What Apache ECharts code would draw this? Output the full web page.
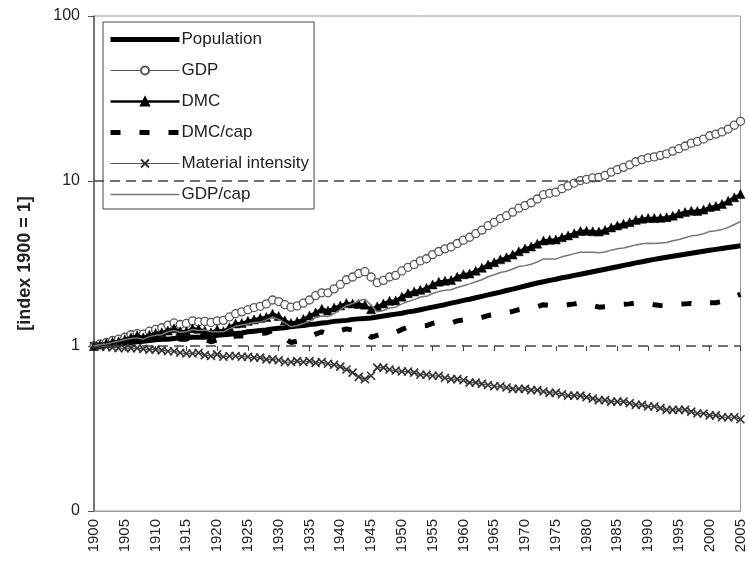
<!DOCTYPE html>
<html>
<head>
<meta charset="utf-8">
<title>Global material use, population and GDP, 1900-2005</title>
<script src="https://cdn.jsdelivr.net/npm/echarts@6/dist/echarts.min.js"></script>
<style>
  html, body { margin: 0; padding: 0; background: #fff; }
  #chart { width: 748px; height: 562px; }
</style>
</head>
<body>
<div id="chart"></div>
<script>
// Years on the horizontal axis
const years = [];
for (let y = 1900; y <= 2005; y++) years.push(String(y));

// Index values, 1900 = 1
const population = [
  1.00, 1.01, 1.02, 1.03, 1.03, 1.04, 1.05, 1.06, 1.07, 1.08,
  1.09, 1.10, 1.10, 1.11, 1.12, 1.12, 1.13, 1.13, 1.13, 1.14,
  1.16, 1.17, 1.18, 1.19, 1.20, 1.22, 1.23, 1.24, 1.25, 1.27,
  1.28, 1.29, 1.31, 1.32, 1.33, 1.35, 1.36, 1.38, 1.39, 1.41,
  1.42, 1.43, 1.45, 1.46, 1.47, 1.48, 1.50, 1.52, 1.54, 1.56,
  1.58, 1.61, 1.63, 1.66, 1.69, 1.72, 1.75, 1.78, 1.82, 1.85,
  1.89, 1.92, 1.96, 2.00, 2.04, 2.08, 2.12, 2.17, 2.21, 2.26,
  2.31, 2.36, 2.41, 2.45, 2.50, 2.54, 2.59, 2.63, 2.68, 2.72,
  2.77, 2.82, 2.87, 2.92, 2.97, 3.02, 3.08, 3.13, 3.19, 3.24,
  3.30, 3.35, 3.40, 3.45, 3.50, 3.55, 3.60, 3.65, 3.70, 3.75,
  3.80, 3.85, 3.90, 3.95, 4.00, 4.05
];

const gdp = [
  1.00, 1.03, 1.05, 1.08, 1.10, 1.13, 1.17, 1.19, 1.18, 1.23,
  1.26, 1.29, 1.34, 1.38, 1.35, 1.37, 1.42, 1.40, 1.41, 1.39,
  1.42, 1.43, 1.50, 1.57, 1.61, 1.66, 1.71, 1.74, 1.80, 1.90,
  1.86, 1.78, 1.72, 1.75, 1.82, 1.90, 2.02, 2.10, 2.10, 2.22,
  2.36, 2.52, 2.62, 2.75, 2.82, 2.62, 2.42, 2.50, 2.62, 2.68,
  2.85, 3.00, 3.12, 3.28, 3.38, 3.58, 3.74, 3.88, 3.98, 4.18,
  4.38, 4.56, 4.80, 5.04, 5.36, 5.62, 5.92, 6.16, 6.48, 6.84,
  7.10, 7.38, 7.78, 8.26, 8.42, 8.56, 8.98, 9.34, 9.72, 10.06,
  10.24, 10.44, 10.52, 10.82, 11.32, 11.72, 12.10, 12.54, 13.08, 13.48,
  13.82, 14.00, 14.30, 14.62, 15.18, 15.70, 16.30, 16.96, 17.36, 17.96,
  18.80, 19.24, 19.84, 20.64, 21.80, 23.00
];

const dmc = [
  1.00, 1.02, 1.04, 1.06, 1.07, 1.10, 1.13, 1.16, 1.13, 1.17,
  1.20, 1.21, 1.24, 1.28, 1.23, 1.23, 1.28, 1.27, 1.24, 1.21,
  1.26, 1.23, 1.30, 1.37, 1.38, 1.42, 1.45, 1.48, 1.50, 1.57,
  1.52, 1.43, 1.38, 1.41, 1.46, 1.53, 1.60, 1.68, 1.64, 1.71,
  1.76, 1.82, 1.81, 1.80, 1.78, 1.67, 1.74, 1.81, 1.88, 1.89,
  1.99, 2.09, 2.14, 2.19, 2.25, 2.36, 2.45, 2.49, 2.51, 2.63,
  2.72, 2.75, 2.86, 2.98, 3.12, 3.22, 3.35, 3.45, 3.58, 3.75,
  3.90, 4.01, 4.17, 4.36, 4.40, 4.42, 4.56, 4.68, 4.82, 4.98,
  4.99, 4.96, 4.94, 5.05, 5.23, 5.38, 5.51, 5.63, 5.81, 5.90,
  5.97, 5.96, 5.98, 6.04, 6.16, 6.35, 6.48, 6.61, 6.59, 6.71,
  6.95, 7.05, 7.25, 7.58, 7.96, 8.34
];

const dmcPerCap = [
  1.00, 1.01, 1.02, 1.03, 1.04, 1.06, 1.08, 1.09, 1.06, 1.08,
  1.10, 1.10, 1.13, 1.15, 1.10, 1.10, 1.13, 1.12, 1.10, 1.06,
  1.09, 1.05, 1.10, 1.15, 1.15, 1.16, 1.18, 1.19, 1.20, 1.24,
  1.19, 1.11, 1.05, 1.07, 1.10, 1.13, 1.18, 1.22, 1.18, 1.21,
  1.24, 1.27, 1.25, 1.23, 1.21, 1.13, 1.16, 1.19, 1.22, 1.21,
  1.26, 1.30, 1.31, 1.32, 1.33, 1.37, 1.40, 1.40, 1.38, 1.42,
  1.44, 1.43, 1.46, 1.49, 1.53, 1.55, 1.58, 1.59, 1.62, 1.66,
  1.69, 1.70, 1.73, 1.78, 1.76, 1.74, 1.76, 1.78, 1.80, 1.83,
  1.80, 1.76, 1.72, 1.73, 1.76, 1.78, 1.79, 1.80, 1.82, 1.82,
  1.81, 1.78, 1.76, 1.75, 1.76, 1.79, 1.80, 1.81, 1.78, 1.79,
  1.83, 1.83, 1.86, 1.92, 1.99, 2.06
];

const materialIntensity = [
  1.00, 0.99, 0.99, 0.98, 0.97, 0.97, 0.97, 0.97, 0.96, 0.95,
  0.95, 0.94, 0.93, 0.93, 0.91, 0.90, 0.90, 0.91, 0.88, 0.87,
  0.89, 0.86, 0.87, 0.87, 0.86, 0.86, 0.85, 0.85, 0.83, 0.83,
  0.82, 0.80, 0.80, 0.81, 0.80, 0.81, 0.79, 0.80, 0.78, 0.77,
  0.75, 0.72, 0.69, 0.65, 0.63, 0.66, 0.74, 0.74, 0.72, 0.71,
  0.70, 0.70, 0.69, 0.67, 0.67, 0.66, 0.66, 0.64, 0.63, 0.63,
  0.62, 0.60, 0.60, 0.59, 0.58, 0.57, 0.57, 0.56, 0.55, 0.55,
  0.55, 0.54, 0.54, 0.53, 0.52, 0.52, 0.51, 0.50, 0.50, 0.50,
  0.49, 0.48, 0.47, 0.47, 0.46, 0.46, 0.46, 0.45, 0.44, 0.44,
  0.43, 0.43, 0.42, 0.41, 0.41, 0.41, 0.41, 0.40, 0.39, 0.39,
  0.38, 0.38, 0.37, 0.37, 0.37, 0.36
];

const gdpPerCap = [
  1.00, 1.02, 1.03, 1.05, 1.07, 1.09, 1.11, 1.12, 1.10, 1.14,
  1.16, 1.17, 1.22, 1.24, 1.21, 1.22, 1.26, 1.24, 1.25, 1.22,
  1.22, 1.22, 1.27, 1.32, 1.34, 1.36, 1.39, 1.40, 1.44, 1.50,
  1.45, 1.38, 1.31, 1.33, 1.37, 1.41, 1.49, 1.52, 1.51, 1.57,
  1.66, 1.76, 1.81, 1.88, 1.92, 1.77, 1.61, 1.64, 1.70, 1.72,
  1.80, 1.86, 1.91, 1.98, 2.00, 2.08, 2.14, 2.18, 2.19, 2.26,
  2.32, 2.38, 2.45, 2.52, 2.63, 2.70, 2.79, 2.84, 2.93, 3.03,
  3.07, 3.13, 3.23, 3.37, 3.37, 3.37, 3.47, 3.55, 3.63, 3.70,
  3.70, 3.70, 3.67, 3.71, 3.81, 3.88, 3.93, 4.01, 4.10, 4.16,
  4.19, 4.18, 4.21, 4.24, 4.34, 4.42, 4.53, 4.65, 4.69, 4.79,
  4.95, 5.00, 5.09, 5.23, 5.45, 5.68
];

// Reference levels drawn as dashed lines
const referenceLevels = [1, 10];

const FONT = '"Liberation Sans", Arial, sans-serif';
const TXT = '#222';

const crossSymbol = 'path://M0,0L10,10M10,0L0,10';

const chart = echarts.init(document.getElementById('chart'), null, { renderer: 'canvas' });

chart.setOption({
  backgroundColor: '#fff',
  animation: false,
  textStyle: { fontFamily: FONT, color: TXT },
  grid: {
    left: 94, right: 3, top: 16, bottom: 51,
    show: true, borderColor: '#9a9a9a', borderWidth: 1, backgroundColor: 'transparent'
  },
  legend: {
    orient: 'vertical',
    left: 103, top: 22,
    padding: [9, 5, 6, 5],
    itemWidth: 69, itemHeight: 10, itemGap: 14,
    borderColor: '#444', borderWidth: 1,
    backgroundColor: '#fff',
    textStyle: { fontFamily: FONT, fontSize: 17, color: TXT, padding: [0, 0, 0, -3] },
    data: [
      { name: 'Population', itemStyle: { opacity: 0 }, lineStyle: { width: 5 } },
      { name: 'GDP', lineStyle: { width: 1 } },
      { name: 'DMC', lineStyle: { width: 2.5 } },
      { name: 'DMC/cap', itemStyle: { opacity: 0 }, lineStyle: { width: 5 } },
      { name: 'Material intensity', lineStyle: { width: 1.2 } },
      { name: 'GDP/cap', itemStyle: { opacity: 0 }, lineStyle: { width: 1.5 } }
    ]
  },
  xAxis: [
    {
      type: 'category',
      data: years,
      boundaryGap: false,
      axisLine: { show: true, lineStyle: { color: '#9a9a9a', width: 1 } },
      axisTick: { show: false },
      axisLabel: {
        interval: 4, rotate: 90, margin: 8,
        fontFamily: FONT, fontSize: 15, color: TXT
      },
      splitLine: { show: false }
    },
    {
      // tick marks along the 1 = 1900 level
      type: 'category',
      data: years,
      boundaryGap: false,
      position: 'bottom',
      offset: -165,
      axisLine: { show: false },
      axisTick: { show: true, interval: 4, length: 5, lineStyle: { color: '#444', width: 1 } },
      axisLabel: { show: false },
      splitLine: { show: false }
    }
  ],
  yAxis: {
    type: 'log',
    logBase: 10,
    min: 0.1,
    max: 100,
    name: '[index 1900 = 1]',
    nameLocation: 'middle',
    nameRotate: 90,
    nameGap: 60,
    nameTextStyle: { fontFamily: FONT, fontSize: 18, fontWeight: 'bold', color: TXT },
    axisLine: { show: true, lineStyle: { color: '#555', width: 1.5 } },
    axisTick: { show: true, inside: false, length: 6, lineStyle: { color: '#555' } },
    axisLabel: {
      margin: 14, fontFamily: FONT, fontSize: 16, color: TXT,
      formatter: v => (v < 1 ? '0' : String(Math.round(v)))
    },
    splitLine: { show: false }
  },
  series: [
    {
      name: 'Population', type: 'line', data: population,
      symbol: 'none',
      lineStyle: { color: '#000', width: 5 },
      itemStyle: { color: '#000' },
      markLine: {
        silent: true, symbol: 'none', label: { show: false },
        lineStyle: { color: '#444', type: [10, 6], width: 1.5 },
        data: referenceLevels.map(v => ({ yAxis: v }))
      },
      z: 2
    },
    {
      name: 'GDP', type: 'line', data: gdp,
      symbol: 'circle', symbolSize: 8, showAllSymbol: true,
      lineStyle: { color: '#555', width: 1 },
      itemStyle: { color: '#fff', borderColor: '#555', borderWidth: 1.3 },
      z: 3
    },
    {
      name: 'DMC', type: 'line', data: dmc,
      symbol: 'triangle', symbolSize: 9, showAllSymbol: true,
      lineStyle: { color: '#000', width: 2.5 },
      itemStyle: { color: '#000', borderColor: '#000', borderWidth: 0.5 },
      z: 4
    },
    {
      name: 'DMC/cap', type: 'line', data: dmcPerCap,
      symbol: 'none',
      lineStyle: { color: '#000', width: 5, type: [10, 19] },
      itemStyle: { color: '#000' },
      z: 5
    },
    {
      name: 'Material intensity', type: 'line', data: materialIntensity,
      symbol: crossSymbol, symbolSize: 8, showAllSymbol: true,
      lineStyle: { color: '#555', width: 1.2 },
      itemStyle: { color: 'none', borderColor: '#333', borderWidth: 1.6 },
      z: 6
    },
    {
      name: 'GDP/cap', type: 'line', data: gdpPerCap,
      symbol: 'none',
      lineStyle: { color: '#777', width: 1.5 },
      itemStyle: { color: '#777' },
      z: 7
    }
  ]
});
</script>
</body>
</html>
